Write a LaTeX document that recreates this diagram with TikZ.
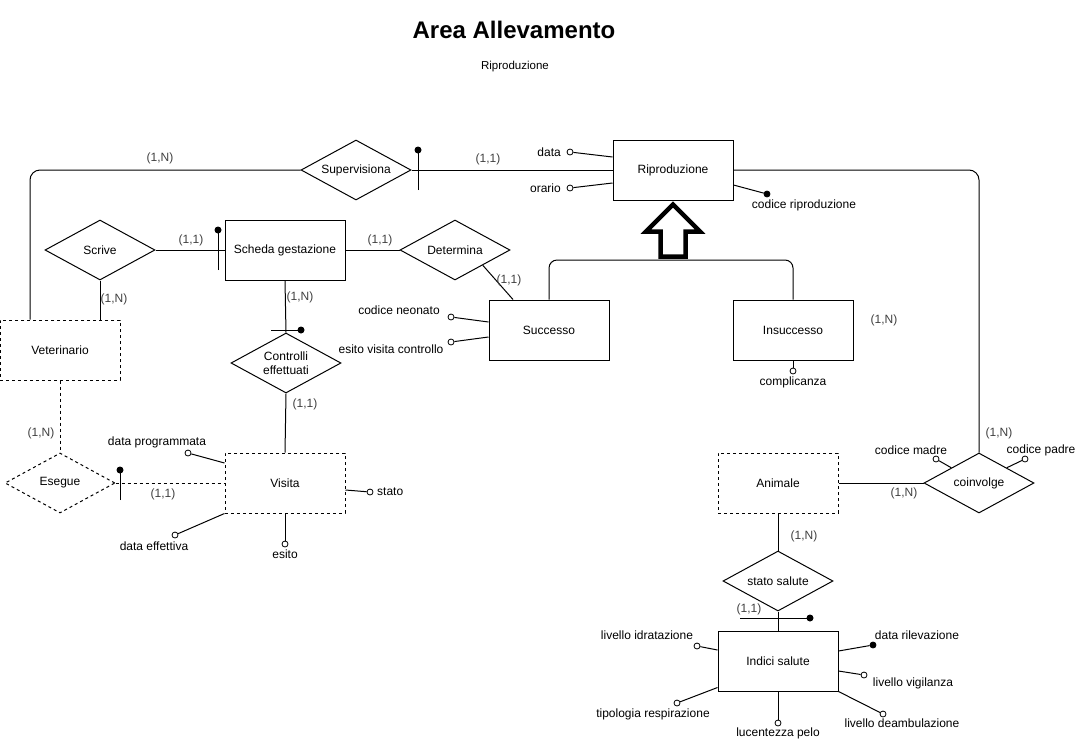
\documentclass[tikz,border=0pt]{standalone}
\usepackage{fontspec}
\setmainfont{Liberation Sans}
\usepackage{tikz}
\usetikzlibrary{positioning}
\usetikzlibrary{shapes.geometric}

\begin{document}
\begin{tikzpicture}[x=1pt, y=-1pt, line width=1pt,
     every node/.style={font=\fontsize{12}{14}\selectfont},
     entity/.style={draw, minimum width=120pt, minimum height=60pt, inner sep=0pt},
     weak/.style={entity, dash pattern=on 3pt off 3pt},
     rel/.style={draw, diamond, aspect=1.8, minimum width=110pt, minimum height=60pt, inner sep=0pt},
     dsh/.style={dash pattern=on 3pt off 3pt},
     card/.style={text=black!75},
     attr/.style={draw, circle, fill=white, inner sep=0pt, minimum size=6pt, line width=0.8pt},
     key/.style={attr, fill=black},
     pin/.style={circle, fill=black, inner sep=0pt, minimum size=7pt}
   ]
     \useasboundingbox (0,0) rectangle (1086,745);

     % titles
     \node[font=\fontsize{24}{28}\bfseries] (title) at (514,30) {Area Allevamento};
     \node[font=\fontsize{11.5}{13}\selectfont] (sub) at (515,67) {Riproduzione};

     % entities
     \node[entity] (rip) at (673,170) {Riproduzione};
     \node[entity] (sch) at (285,250) {Scheda gestazione};
     \node[entity] (succ) at (549,330) {Successo};
     \node[entity] (insucc) at (793,330) {Insuccesso};
     \node[weak] (vet) at (60,350) {Veterinario};
     \node[weak] (vis) at (285,483) {Visita};
     \node[weak] (ani) at (778,483) {Animale};
     \node[entity] (ind) at (778,661) {Indici salute};

     % relationships
     \node[rel] (sup) at (356,170) {Supervisiona};
     \node[rel] (scr) at (100,250) {Scrive};
     \node[rel] (det) at (455,250) {Determina};
     \node[rel, align=center] (con) at (286,363) {Controlli\\effettuati};
     \node[rel, dsh] (ese) at (60,483) {Esegue};
     \node[rel] (coi) at (979,483) {coinvolge};
     \node[rel] (sta) at (778,581) {stato salute};

     % links
     \draw[rounded corners=10pt] ([xshift=-30pt]vet.north) |- (sup.west);
     \draw (sup.east) -- (rip.west);
     \draw[rounded corners=10pt] (rip.east) -| (coi.north);
     \draw (scr.east) -- (sch.west);
     \draw (scr.south) -- (scr.south |- vet.north);
     \draw (sch.east) -- (det.west);
     \draw (det.south east) -- ([xshift=-36pt]succ.north);
     \draw (sch.south) -- (con.north);
     \draw (con.south) -- (vis.north);
     \draw[dsh] (vet.south) -- (ese.north);
     \draw[dsh] (ese.east) -- (vis.west);
     \draw (ani.east) -- (coi.west);
     \draw (ani.south) -- (sta.north);
     \draw (sta.south) -- (ind.north);

     % generalization
     \coordinate (isa) at (673,260);
     \draw[rounded corners=8pt] (succ.north) |- (isa) -| (insucc.north);
     \draw[line width=4.5pt, line join=miter, fill=white] ([yshift=-4pt]rip.south) -- ++(27,27) -- ++(-14.5,0) -- ++(0,25)
        -- ++(-25,0) -- ++(0,-25) -- ++(-14.5,0) -- cycle;

     % participation marks
     \draw (418,190) -- (418,150) node[pin] (p1) {};
     \draw (218,270) -- (218,230) node[pin] (p2) {};
     \draw (271,330) -- (301,330) node[pin] (p3) {};
     \draw (120,500) -- (120,470) node[pin] (p4) {};
     \draw (740,618) -- (810,618) node[pin] (p5) {};

     % cardinalities
     \node[card] (c1) at (160,158) {(1,N)};
     \node[card] (c2) at (488,159) {(1,1)};
     \node[card] (c3) at (191,240) {(1,1)};
     \node[card] (c4) at (114,299) {(1,N)};
     \node[card] (c5) at (380,240) {(1,1)};
     \node[card] (c6) at (509,280) {(1,1)};
     \node[card] (c7) at (300,297) {(1,N)};
     \node[card] (c8) at (305,404) {(1,1)};
     \node[card] (c9) at (41,433) {(1,N)};
     \node[card] (c10) at (163,494) {(1,1)};
     \node[card] (c11) at (884,320) {(1,N)};
     \node[card] (c12) at (999,433) {(1,N)};
     \node[card] (c13) at (904,493) {(1,N)};
     \node[card] (c14) at (804,536) {(1,N)};
     \node[card] (c15) at (749,609) {(1,1)};

     % attributes of Riproduzione
     \node[attr] (a1) at (570,152) {};
     \node[left=2pt of a1] (t1) {data};
     \draw ([yshift=13pt]rip.west) -- (a1);
     \node[attr] (a2) at (570,188) {};
     \node[left=2pt of a2] (t2) {orario};
     \draw ([yshift=-13pt]rip.west) -- (a2);
     \node[key] (a3) at (767,194) {};
     \node (t3) at (804,205) {codice riproduzione};
     \draw ([yshift=-15pt]rip.east) -- (a3);

     % attributes of Successo, Insuccesso
     \node[attr] (a4) at (451,317) {};
     \node (t4) at (399,310) {codice neonato};
     \draw ([yshift=8pt]succ.west) -- (a4);
     \node[attr] (a5) at (451,342) {};
     \node (t5) at (391,349) {esito visita controllo};
     \draw ([yshift=-7pt]succ.west) -- (a5);
     \node[attr] (a6) at (793,371) {};
     \node[below=-1pt of a6] (t6) {complicanza};
     \draw (insucc.south) -- (a6);

     % attributes of Visita
     \node[attr] (a7) at (188,453) {};
     \node (t7) at (157,442) {data programmata};
     \draw ([yshift=20pt]vis.west) -- (a7);
     \node[attr] (a8) at (370,492) {};
     \node[right=0pt of a8] (t8) {stato};
     \draw ([yshift=-7pt]vis.east) -- (a8);
     \node[attr] (a9) at (175,535) {};
     \node (t9) at (154,546) {data effettiva};
     \draw (vis.south west) -- (a9);
     \node[attr] (a10) at (285,544) {};
     \node[below=-1pt of a10] (t10) {esito};
     \draw (vis.south) -- (a10);

     % attributes of coinvolge
     \node[attr] (a11) at (936,459) {};
     \node (t11) at (911,450) {codice madre};
     \draw (coi.north west) -- (a11);
     \node[attr] (a12) at (1025,459) {};
     \node (t12) at (1041,450) {codice padre};
     \draw (coi.north east) -- (a12);

     % attributes of Indici salute
     \node[attr] (a13) at (697,646) {};
     \node (t13) at (647,635) {livello idratazione};
     \draw ([yshift=11pt]ind.west) -- (a13);
     \node[key] (a14) at (873,645) {};
     \node (t14) at (917,635) {data rilevazione};
     \draw ([yshift=10pt]ind.east) -- (a14);
     \node[attr] (a15) at (864,675) {};
     \node (t15) at (913,683) {livello vigilanza};
     \draw ([yshift=-10pt]ind.east) -- (a15);
     \node[attr] (a16) at (677,703) {};
     \node (t16) at (653,714) {tipologia respirazione};
     \draw ([yshift=4pt]ind.south west) -- (a16);
     \node[attr] (a17) at (778,723) {};
     \node[below=-2pt of a17] (t17) {lucentezza pelo};
     \draw (ind.south) -- (a17);
     \node[attr] (a18) at (883,714) {};
     \node (t18) at (902,723) {livello deambulazione};
     \draw (ind.south east) -- (a18);
  \end{tikzpicture}
\end{document}
